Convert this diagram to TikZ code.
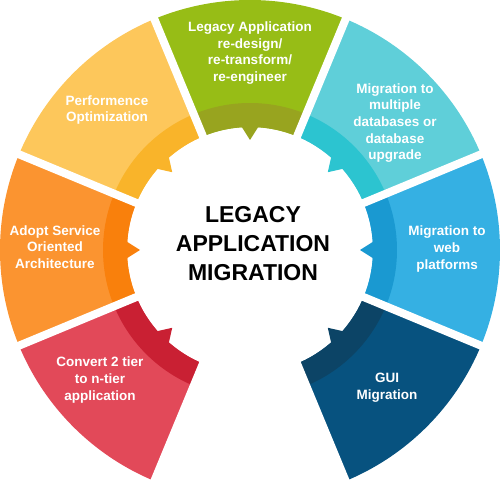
\documentclass[tikz,border=0pt]{standalone}
\usepackage{fontspec}
\setmainfont{Liberation Sans}
\definecolor{grnL}{HTML}{97BD16}
\definecolor{grnD}{HTML}{98A41F}
\definecolor{tealL}{HTML}{5FCFD9}
\definecolor{tealD}{HTML}{2CC4D0}
\definecolor{bluL}{HTML}{35B0E3}
\definecolor{bluD}{HTML}{1A99D1}
\definecolor{navL}{HTML}{07527F}
\definecolor{navD}{HTML}{0C4466}
\definecolor{redL}{HTML}{E24959}
\definecolor{redD}{HTML}{C92033}
\definecolor{orgL}{HTML}{FB9430}
\definecolor{orgD}{HTML}{F9800C}
\definecolor{ylwL}{HTML}{FDC75B}
\definecolor{ylwD}{HTML}{F9B42A}
\newcommand\ringseg[4]{%
  \fill[#3] (#1:123pt) -- (#1:250pt) arc[start angle=#1, end angle=#2, radius=250pt]
    -- (#2:123pt) arc[start angle=#2, end angle=#1, radius=123pt] -- cycle;
  \fill[#4] (#1:123pt) -- (#1:147pt) arc[start angle=#1, end angle=#2, radius=147pt]
    -- (#2:123pt) arc[start angle=#2, end angle=#1, radius=123pt] -- cycle;
  \pgfmathsetmacro\segmid{(#1+#2)/2}
  \fill[#4] (\segmid-4:124pt) -- (\segmid:110pt) -- (\segmid+4:124pt) -- cycle;
}
\tikzset{
  lbl/.style={text=white, align=center, inner sep=0pt,
    font=\fontsize{13.5}{16.7}\selectfont\bfseries},
  ttl/.style={text=black, align=center, inner sep=0pt,
    font=\fontsize{23}{29}\selectfont\bfseries}
}
\begin{document}
\begin{tikzpicture}[x=1pt,y=1pt]
\useasboundingbox (0,0) rectangle (500,479);
\begin{scope}[shift={(250,229)}]
  \ringseg{67.5}{112.5}{grnL}{grnD}
  \ringseg{22.5}{67.5}{tealL}{tealD}
  \ringseg{-22.5}{22.5}{bluL}{bluD}
  \ringseg{-67.5}{-22.5}{navL}{navD}
  \ringseg{202.5}{247.5}{redL}{redD}
  \ringseg{157.5}{202.5}{orgL}{orgD}
  \ringseg{112.5}{157.5}{ylwL}{ylwD}
  \foreach \a in {-67.5,-22.5,22.5,67.5,112.5,157.5,202.5,247.5}
    \draw[white, line width=8pt] (\a:100pt) -- (\a:262pt);
\end{scope}
\node[lbl] (green) at (250,426) {Legacy Application\\re-design/\\re-transform/\\re-engineer};
\node[lbl] (teal) at (395,356) {Migration to\\multiple\\databases or\\database\\upgrade};
\node[lbl] (blue) at (447,230) {Migration to\\web\\platforms};
\node[lbl] (gui) at (387,91) {GUI\\Migration};
\node[lbl] (red) at (100,99) {Convert 2 tier\\to n-tier\\application};
\node[lbl] (orange) at (55,232) {Adopt Service\\Oriented\\Architecture};
\node[lbl] (yellow) at (107,369) {Performence\\Optimization};
\node[ttl] (center) at (253,235) {LEGACY\\APPLICATION\\MIGRATION};
\end{tikzpicture}
\end{document}
